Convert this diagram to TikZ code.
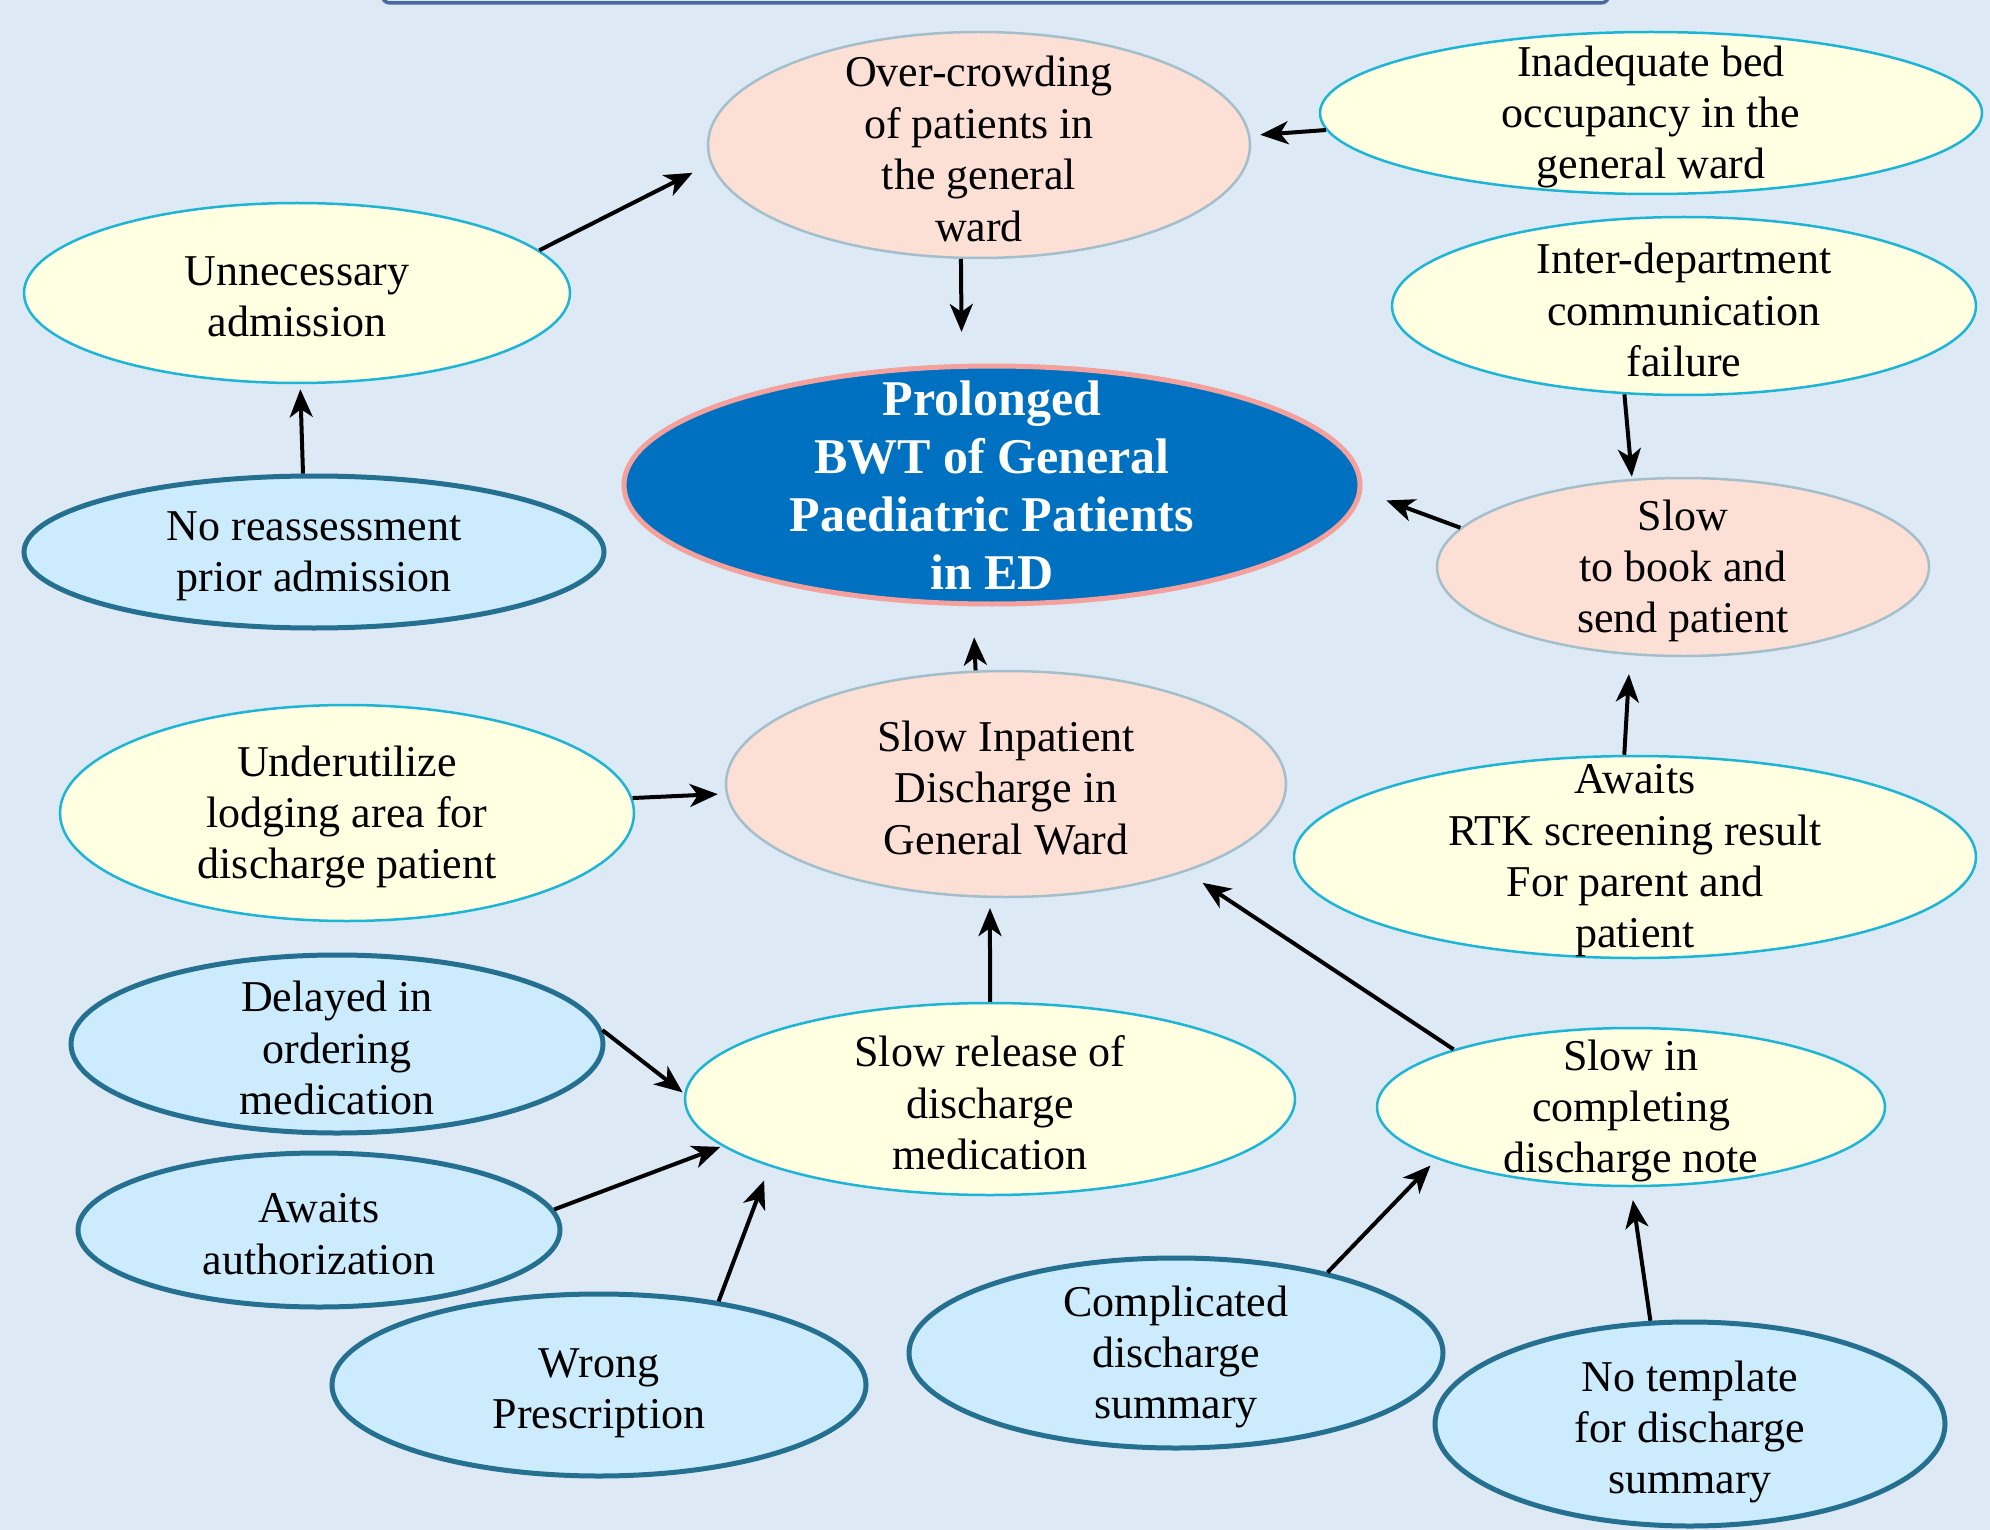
\documentclass[tikz,border=0pt]{standalone}
\usepackage{fontspec}
\setmainfont{Liberation Serif}
\usetikzlibrary{shapes.geometric,arrows.meta}
\definecolor{bg}{HTML}{DDEAF6}
\definecolor{peachF}{HTML}{FDE0D5}
\definecolor{peachD}{HTML}{A3BFCB}
\definecolor{yelF}{HTML}{FFFFE1}
\definecolor{yelD}{HTML}{1DB5D5}
\definecolor{bluF}{HTML}{CCEBFC}
\definecolor{bluD}{HTML}{256F91}
\definecolor{mainF}{HTML}{0070C0}
\definecolor{mainD}{HTML}{F4A09C}
\definecolor{barD}{HTML}{4B68A2}
\tikzset{
  txt/.style={align=center, inner sep=0pt, yshift=-4pt, font=\fontsize{44}{51.4}\selectfont},
  maintxt/.style={align=center, inner sep=0pt, text=white, font=\bfseries\fontsize{50}{58}\selectfont},
  base/.style={ellipse, inner sep=0pt},
  peach/.style={base, fill=peachF, draw=peachD, line width=2.5pt},
  yel/.style={base, fill=yelF, draw=yelD, line width=2.5pt},
  blu/.style={base, fill=bluF, draw=bluD, line width=5pt},
  mainnode/.style={base, fill=mainF, draw=mainD, line width=5pt},
  arr/.style={line width=4pt, -{Stealth[length=28pt,width=23pt,inset=8pt]}}
}
\begin{document}
\begin{tikzpicture}[x=1pt,y=-1pt]
\useasboundingbox (0,0) rectangle (1990,1530);
\clip (0,0) rectangle (1990,1530);
\fill[bg] (0,0) rectangle (1990,1530);
\draw[barD, line width=3.5pt, fill=bg, rounded corners=8pt] (382,-40) rectangle (1609,3);

\node[peach, minimum width=542pt, minimum height=226pt, label={[txt]center:{Over-crowding\\of patients in\\the general\\ward}}] (over) at (979,145) {};
\node[yel, minimum width=662pt, minimum height=162pt, label={[txt]center:{Inadequate bed\\occupancy in the\\general ward}}] (inad) at (1651,113) {};
\node[yel, minimum width=546pt, minimum height=180pt, label={[txt]center:{Unnecessary\\admission}}] (unnec) at (297,293) {};
\node[yel, minimum width=584pt, minimum height=178pt, label={[txt]center:{Inter-department\\communication\\failure}}] (inter) at (1684,306) {};
\node[mainnode, minimum width=736pt, minimum height=238pt, label={[maintxt]center:{Prolonged\\BWT of General\\Paediatric Patients\\in ED}}] (main) at (992,485) {};
\node[blu, minimum width=580pt, minimum height=152pt, label={[txt]center:{No reassessment\\prior admission}}] (noreass) at (314,552) {};
\node[peach, minimum width=492pt, minimum height=178pt, label={[txt]center:{Slow\\to book and\\send patient}}] (book) at (1683,567) {};
\node[yel, minimum width=574pt, minimum height=216pt, label={[txt]center:{Underutilize\\lodging area for\\discharge patient}}] (under) at (347,813) {};
\node[peach, minimum width=560pt, minimum height=226pt, label={[txt]center:{Slow Inpatient\\Discharge in\\General Ward}}] (inpat) at (1006,784) {};
\node[yel, minimum width=682pt, minimum height=202pt, label={[txt]center:{Awaits\\RTK screening result\\For parent and\\patient}}] (rtk) at (1635,857) {};
\node[blu, minimum width=532pt, minimum height=178pt, label={[txt]center:{Delayed in\\ordering\\medication}}] (delay) at (337,1044) {};
\node[yel, minimum width=610pt, minimum height=192pt, label={[txt]center:{Slow release of\\discharge\\medication}}] (rel) at (990,1099) {};
\node[yel, minimum width=508pt, minimum height=158pt, label={[txt]center:{Slow in\\completing\\discharge note}}] (comp) at (1631,1107) {};
\node[blu, minimum width=482pt, minimum height=154pt, label={[txt]center:{Awaits\\authorization}}] (auth) at (319,1230) {};
\node[blu, minimum width=534pt, minimum height=182pt, label={[txt,yshift=-4pt]center:{Wrong\\Prescription}}] (wrong) at (599,1385) {};
\node[blu, minimum width=534pt, minimum height=190pt, label={[txt]center:{Complicated\\discharge\\summary}}] (compl) at (1176,1353) {};
\node[blu, minimum width=510pt, minimum height=204pt, label={[txt,yshift=-4pt]center:{No template\\for discharge\\summary}}] (templ) at (1690,1424) {};

\draw[arr, shorten >=20pt] (unnec.10) -- (over.184.5);
\draw[arr, shorten >=32pt] (over.261) -- (main.104.7);
\draw[arr, shorten >=10pt] (inad.183.2) -- (over.2);
\draw[arr, shorten >=5pt] (noreass.98) -- (unnec.272.5);
\draw[arr, shorten >=2pt] (inter.236.9) -- (book.120.4);
\draw[arr, shorten >=26pt] (book.170.5) -- (main.-1);
\draw[arr, shorten >=31pt] (inpat.105.4) -- (main.261.9);
\draw[arr, shorten >=8pt] (under.3.8) -- (inpat.182);
\draw[arr, shorten >=19pt] (rtk.96.2) -- (book.239.1);
\draw[arr, shorten >=10pt] (rel.90) -- (inpat.262);
\draw[arr, shorten >=20pt] (comp.162.7) -- (inpat.334.6);
\draw[arr, shorten >=2pt] (delay.3.7) -- (rel.179);
\draw[arr, shorten >=2pt] (auth.5) -- (rel.190.3);
\draw[arr, shorten >=15pt] (wrong.35.4) -- (rel.197.1);
\draw[arr, shorten >=9pt] (compl.28.4) -- (comp.195.5);
\draw[arr, shorten >=13pt] (templ.111.7) -- (comp.270);
\end{tikzpicture}
\end{document}
